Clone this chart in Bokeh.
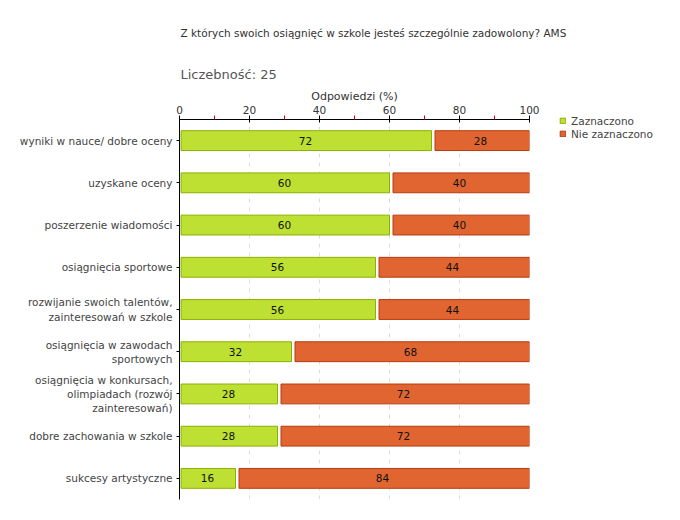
from bokeh.plotting import figure
from bokeh.models import (ColumnDataSource, FactorRange, Range1d, FixedTicker, Legend,
                          LegendItem, Title)
from bokeh.transform import dodge
from bokeh.core.properties import value
from bokeh.embed import file_html
from bokeh.resources import INLINE

title_text = "Z których swoich osiągnięć w szkole jesteś szczególnie zadowolony? AMS"
count_text = "Liczebność: 25"
axis_title = "Odpowiedzi (%)"
series_names = ["Zaznaczono", "Nie zaznaczono"]

categories = [
    "wyniki w nauce/ dobre oceny",
    "uzyskane oceny",
    "poszerzenie wiadomości",
    "osiągnięcia sportowe",
    "rozwijanie swoich talentów,\nzainteresowań w szkole",
    "osiągnięcia w zawodach\nsportowych",
    "osiągnięcia w konkursach,\nolimpiadach (rozwój\nzainteresowań)",
    "dobre zachowania w szkole",
    "sukcesy artystyczne",
]
zaznaczono = [72, 60, 60, 56, 56, 32, 28, 28, 16]
nie_zaznaczono = [28, 40, 40, 44, 44, 68, 72, 72, 84]
x_ticks = [0, 20, 40, 60, 80, 100]
x_minor = [10, 30, 50, 70, 90]

FONT = "DejaVu Sans"

green_src = ColumnDataSource(dict(
    cat=categories,
    left=[0] * len(categories),
    right=zaznaczono,
    mid=[v / 2 for v in zaznaczono],
    txt=[str(v) for v in zaznaczono],
))
orange_src = ColumnDataSource(dict(
    cat=categories,
    left=zaznaczono,
    right=[a + b for a, b in zip(zaznaczono, nie_zaznaczono)],
    mid=[a + b / 2 for a, b in zip(zaznaczono, nie_zaznaczono)],
    txt=[str(v) for v in nie_zaznaczono],
))

main_title = Title(text=title_text, align="left", text_font=FONT, text_font_size="10.5px",
                   text_font_style="normal", text_color="#333333", standoff=42, offset=1)

p = figure(
    y_range=FactorRange(*reversed(categories)),
    x_range=Range1d(0, 100),
    x_axis_location="above",
    frame_width=350, frame_height=380,
    min_border_left=179, min_border_top=119, min_border_right=142, min_border_bottom=8,
    output_backend="svg", toolbar_location=None,
    title=main_title,
)
p.outline_line_color = None
p.background_fill_color = "white"
p.border_fill_color = "white"

g = p.hbar(y="cat", left=dodge("left", 0.45), right="right", height=0.47, source=green_src,
           fill_color="#BDE032", line_color="#8DB000", line_width=1)
o = p.hbar(y="cat", left=dodge("left", 1.0), right="right", height=0.47, source=orange_src,
           fill_color="#E06530", line_color="#B83A10", line_width=1)

for src in (green_src, orange_src):
    p.text(x="mid", y="cat", text="txt", source=src, text_align="center",
           text_baseline="middle", text_font=value(FONT), text_font_size="10.5px",
           text_color="#111111")

# top axis
xa = p.xaxis[0]
xa.ticker = FixedTicker(ticks=x_ticks, minor_ticks=x_minor)
xa.axis_label = axis_title
xa.axis_label_text_font = FONT
xa.axis_label_text_font_size = "11px"
xa.axis_label_text_font_style = "normal"
xa.axis_label_text_color = "#333333"
xa.axis_label_standoff = 0
xa.major_label_text_font = FONT
xa.major_label_text_font_size = "10.5px"
xa.major_label_text_color = "#333333"
xa.major_label_standoff = 2
xa.axis_line_color = "black"
xa.major_tick_line_color = "black"
xa.major_tick_in = 3
xa.major_tick_out = 4
xa.minor_tick_line_color = "#E00000"
xa.minor_tick_in = 0
xa.minor_tick_out = 4

# left axis
ya = p.yaxis[0]
ya.major_label_text_font = FONT
ya.major_label_text_font_size = "10.5px"
ya.major_label_text_color = "#444444"
ya.major_label_standoff = 4
ya.axis_line_color = "black"
ya.major_tick_line_color = "black"
ya.major_tick_in = 0
ya.major_tick_out = 3
ya.minor_tick_line_color = None

p.xgrid.ticker = FixedTicker(ticks=x_ticks)
p.xgrid.grid_line_color = "#DDDDDD"
p.xgrid.grid_line_dash = "4 5"
p.ygrid.grid_line_color = None

count_title = Title(text=count_text, align="left", text_font=FONT, text_font_size="13px",
                    text_font_style="normal", text_color="#555555", standoff=10, offset=1)
p.add_layout(count_title, "above")

legend = Legend(
    items=[LegendItem(label=series_names[0], renderers=[g]),
           LegendItem(label=series_names[1], renderers=[o])],
    location=(30, 359),
    orientation="vertical",
    padding=0, margin=0, spacing=0,
    glyph_width=7, glyph_height=7,
    label_standoff=5,
    label_text_font=FONT, label_text_font_size="10.5px", label_text_color="#444444",
    label_height=13,
    border_line_color=None, background_fill_alpha=0,
)
p.add_layout(legend, "right")

open("out.html", "w").write(file_html(p, INLINE))
